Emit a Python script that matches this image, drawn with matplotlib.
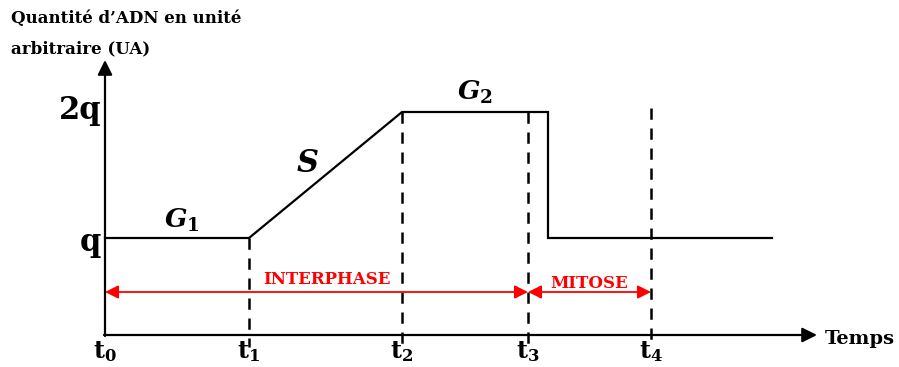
import matplotlib.pyplot as plt

plt.rcParams['font.family'] = 'DejaVu Serif'
plt.rcParams['mathtext.fontset'] = 'custom'
plt.rcParams['mathtext.rm'] = 'DejaVu Serif:bold'
plt.rcParams['mathtext.bf'] = 'DejaVu Serif:bold'
plt.rcParams['mathtext.it'] = 'DejaVu Serif:bold:italic'

# diagram units (origin at the axes crossing)
t_names = ['t$_0$', 't$_1$', 't$_2$', 't$_3$', 't$_4$']
t_pos = [0, 144, 297, 423, 546]
q = 97
q2 = 223

# DNA curve
curve_x = [0, 144, 297, 443, 443, 667]
curve_y = [q, q, q2, q2, q, q]

# dashed verticals: (x, top)
dash_x = [144, 297, 423, 546]
dash_top = [q, q2, q2, q2 + 4]

phases = ['INTERPHASE', 'MITOSE']
phase_start = [0, 423]
phase_end = [423, 546]

fig = plt.figure(figsize=(8.99, 3.67), dpi=100)
ax = fig.add_axes([0, 0, 1, 1])
ax.set_xlim(-105, 794)
ax.set_ylim(-32, 335)
ax.axis('off')

# axes arrows
ax.annotate('', xy=(712, 0), xytext=(-1, 0),
            arrowprops=dict(arrowstyle='-|>', color='black', lw=1.6, mutation_scale=22,
                            shrinkA=0, shrinkB=0))
ax.annotate('', xy=(0, 275), xytext=(0, -1),
            arrowprops=dict(arrowstyle='-|>', color='black', lw=1.6, mutation_scale=22,
                            shrinkA=0, shrinkB=0))

ax.plot(curve_x, curve_y, color='black', lw=1.6, solid_joinstyle='miter')

# drawn top-down so every line starts with a full dash
for x, top in zip(dash_x, dash_top):
    ax.plot([x, x], [top, -12], color='black', lw=1.8, dashes=(4.5, 3.5))

for name, start, end in zip(phases, phase_start, phase_end):
    ax.annotate('', xy=(end, 43), xytext=(start, 43),
                arrowprops=dict(arrowstyle='<|-|>', color='red', lw=1.3, mutation_scale=20,
                                shrinkA=0, shrinkB=0))
ax.text(222, 56, phases[0], color='red', fontsize=12, fontweight='bold', ha='center', va='center')
ax.text(484, 52, phases[1], color='red', fontsize=12, fontweight='bold', ha='center', va='center')

for name, x in zip(t_names, t_pos):
    ax.text(x, -17, name, fontsize=17, fontweight='bold', ha='center', va='center')

ax.text(-4, q - 4, 'q', fontsize=22, fontweight='bold', ha='right', va='center')
ax.text(-3, q2 + 1, '2q', fontsize=22, fontweight='bold', ha='right', va='center')

ax.text(77, 115, r'$\mathit{G_1}$', fontsize=19, ha='center', va='center')
ax.text(202, 172, r'$\mathit{S}$', fontsize=22, ha='center', va='center')
ax.text(370, 243, r'$\mathit{G_2}$', fontsize=19, ha='center', va='center')

ax.text(720, -4, 'Temps', fontsize=14, fontweight='bold', ha='left', va='center')
ax.text(-94, 325, 'Quantité d\u2019ADN en unité\narbitraire (UA)', fontsize=12,
        fontweight='bold', ha='left', va='top', linespacing=2.0)

fig.savefig('out.png', dpi=100)
